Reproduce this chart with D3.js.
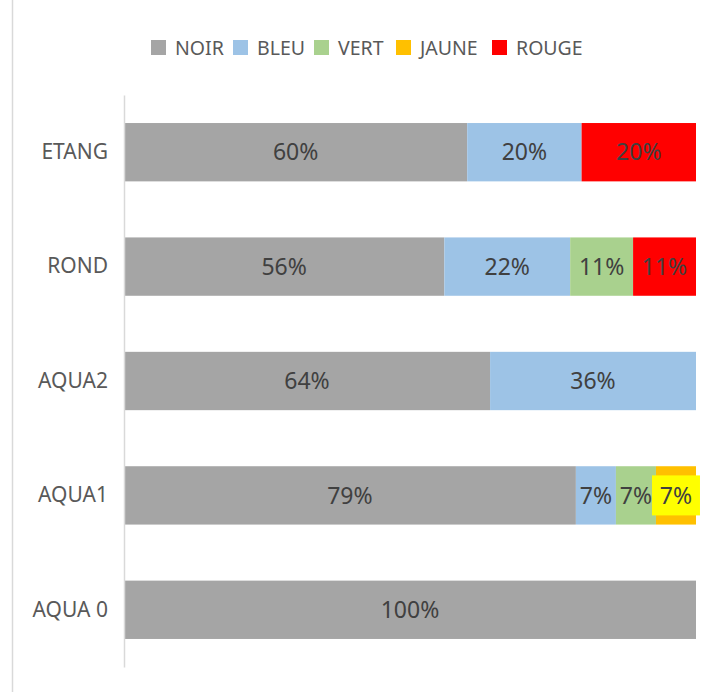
<!DOCTYPE html>
<html>
<head>
<meta charset="utf-8">
<script src="https://cdn.jsdelivr.net/npm/d3@7"></script>
<style>
  body { margin: 0; background: #fff; }
  text { font-family: "Noto Sans", "Open Sans", sans-serif; }
</style>
</head>
<body>
<div id="chart"></div>
<script>
// categories top to bottom
var categories = ["ETANG", "ROND", "AQUA2", "AQUA1", "AQUA 0"];
var seriesNames = ["NOIR", "BLEU", "VERT", "JAUNE", "ROUGE"];
// values in percent for each category
var noir = [60, 56, 64, 79, 100];
var bleu = [20, 22, 36, 7, 0];
var vert = [0, 11, 0, 7, 0];
var jaune = [0, 0, 0, 7, 0];
var rouge = [20, 11, 0, 0, 0];

var colors = ["#A5A5A5", "#9DC3E6", "#A9D18E", "#FFC000", "#FF0000"];

var W = 715, H = 692;
var margin = { top: 95, right: 19, bottom: 25, left: 124 },
  width = W - margin.left - margin.right,
  height = H - margin.top - margin.bottom;

// build rows for the stack
var rows = categories.map(function(c, i) {
  return { cat: c, NOIR: noir[i], BLEU: bleu[i], VERT: vert[i], JAUNE: jaune[i], ROUGE: rouge[i] };
});
var stacked = d3.stack().keys(seriesNames)(rows);

var x = d3.scaleLinear().domain([0, 100]).range([0, width]);
var y = d3.scaleBand().domain(categories).range([0, height]).paddingInner(0.49).paddingOuter(0.245);
var color = d3.scaleOrdinal().domain(seriesNames).range(colors);

var root = d3.select("#chart").append("svg").attr("width", W).attr("height", H);

// chart frame left border
root.append("line")
  .attr("x1", 12.5).attr("x2", 12.5).attr("y1", 0).attr("y2", H)
  .style("stroke", "#D9D9D9").style("stroke-width", 1.5);

var svg = root.append("g")
  .attr("transform", "translate(" + margin.left + "," + margin.top + ")");

// bars
var groups = svg.selectAll(".serie").data(stacked).enter().append("g")
  .attr("class", "serie")
  .style("fill", function(d) { return color(d.key); });

groups.selectAll("rect").data(function(d) { return d; }).enter().append("rect")
  .attr("x", function(d) { return x(d[0]); })
  .attr("y", function(d) { return y(d.data.cat); })
  .attr("width", function(d) { return x(d[1]) - x(d[0]); })
  .attr("height", y.bandwidth());

// y axis
var yAxis = svg.append("g").call(d3.axisLeft(y).tickSize(0).tickPadding(16));
yAxis.select(".domain").style("stroke", "#D9D9D9").style("stroke-width", 1.5);
yAxis.selectAll("text")
  .style("font-family", "Noto Sans")
  .style("font-size", "21px")
  .style("fill", "#595959");

// value labels
stacked.forEach(function(s) {
  s.forEach(function(d) {
    var v = d[1] - d[0];
    if (v <= 0) return;
    var cx = x((d[0] + d[1]) / 2), cy = y(d.data.cat) + y.bandwidth() / 2;
    if (s.key === "JAUNE") {
      svg.append("rect")
        .attr("x", cx - 24).attr("y", cy - 20)
        .attr("width", 48).attr("height", 40)
        .style("fill", "#FFFF00");
    }
    svg.append("text")
      .attr("x", cx).attr("y", cy)
      .attr("dy", "0.36em")
      .attr("text-anchor", "middle")
      .style("font-size", "23px")
      .style("fill", "#404040")
      .text(v + "%");
  });
});

// legend
var legendX = [151, 233, 314, 396, 492];
var legend = root.append("g").attr("transform", "translate(0,48)");
seriesNames.forEach(function(n, i) {
  legend.append("rect")
    .attr("x", legendX[i]).attr("y", -8)
    .attr("width", 15).attr("height", 15)
    .style("fill", colors[i]);
  legend.append("text")
    .attr("x", legendX[i] + 24).attr("y", 0)
    .attr("dy", "0.36em")
    .style("font-size", "19.5px")
    .style("fill", "#595959")
    .text(n);
});
</script>
</body>
</html>
